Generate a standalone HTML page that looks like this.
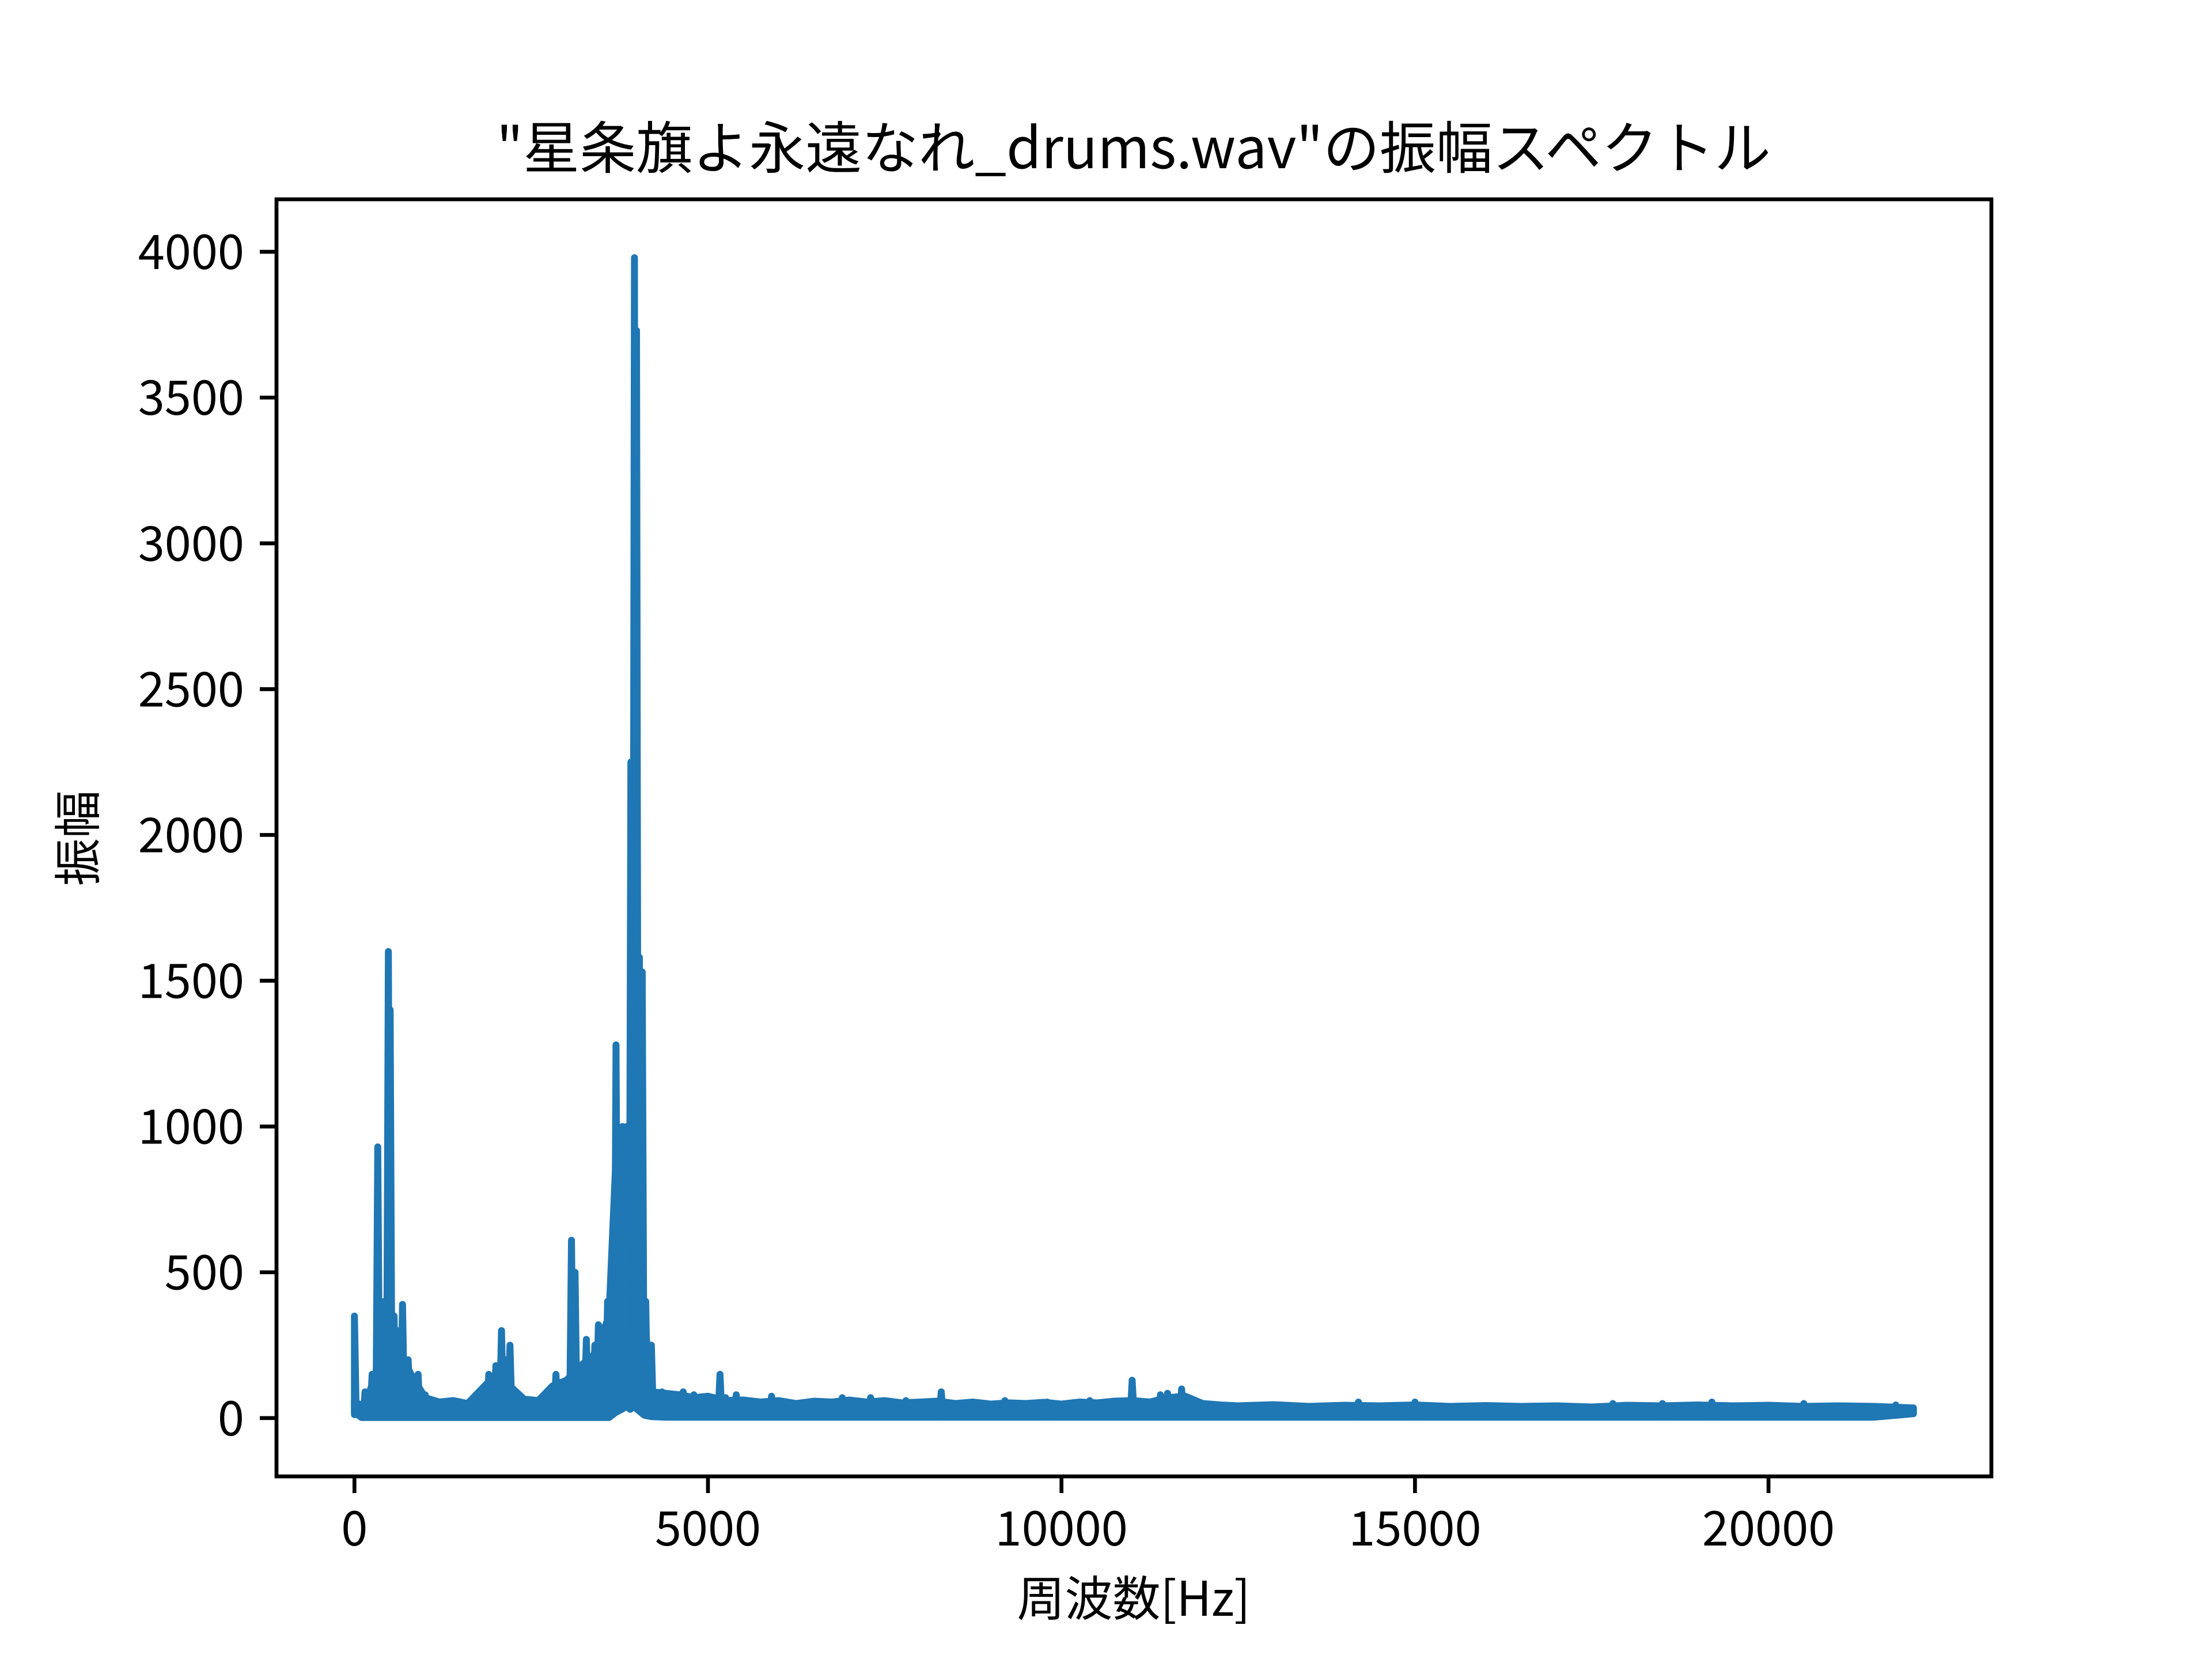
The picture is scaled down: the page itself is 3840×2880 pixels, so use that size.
<!DOCTYPE html>
<html><head><meta charset="utf-8">
<style>
html,body{margin:0;padding:0;background:#fff;}
svg{display:block;}
text{font-family:"Noto Sans CJK JP","Liberation Sans",sans-serif;fill:#000;}
</style></head>
<body>
<svg id="chart" width="3840" height="2880" viewBox="0 0 3840 2880" xmlns="http://www.w3.org/2000/svg">
<rect width="3840" height="2880" fill="#fff"/>
<text x="1968" y="292" font-size="98" text-anchor="middle">"星条旗よ永遠なれ_drums.wav"の振幅スペクトル</text>
<g id="plot"></g>
<g id="axes"></g>
<text x="1968" y="2805" font-size="83" text-anchor="middle">周波数[Hz]</text>
<text transform="translate(165,1455) rotate(-90)" font-size="83" text-anchor="middle">振幅</text>
</svg>
<script>
const xTicks = [0, 5000, 10000, 15000, 20000];
const yTicks = [0, 500, 1000, 1500, 2000, 2500, 3000, 3500, 4000];
const bandFreq = [0, 100, 200, 300, 400, 600, 800, 1000, 1200, 1400, 1600, 1800, 2000, 2200, 2400, 2600, 2800, 3000, 3200, 3400, 3600, 3700, 3780, 3850, 3900, 3950, 4000, 4100, 4200, 4400, 4600, 4800, 5000, 5250, 5500, 5750, 6000, 6250, 6500, 6750, 7000, 7250, 7500, 7750, 8000, 8250, 8500, 8750, 9000, 9250, 9500, 9750, 10000, 10250, 10500, 10750, 11000, 11250, 11500, 11750, 12000, 12250, 12500, 13000, 13500, 14000, 14500, 15000, 15500, 16000, 16500, 17000, 17500, 18000, 18500, 19000, 19500, 20000, 20500, 21000, 21500, 22050];
const bandHi = [60, 40, 80, 150, 300, 250, 150, 70, 55, 60, 50, 100, 150, 110, 65, 60, 110, 130, 180, 220, 350, 900, 950, 1000, 150, 1000, 900, 350, 90, 85, 80, 70, 75, 60, 62, 55, 60, 50, 58, 55, 62, 55, 60, 52, 55, 58, 50, 55, 48, 52, 50, 54, 48, 55, 52, 58, 60, 55, 70, 75, 50, 45, 42, 46, 40, 44, 42, 45, 40, 43, 40, 42, 38, 44, 42, 45, 42, 44, 40, 42, 40, 35];
const bandLo = [20, 2, 2, 2, 2, 2, 2, 2, 2, 2, 2, 2, 2, 2, 2, 2, 2, 2, 2, 2, 2, 20, 30, 40, 30, 40, 30, 10, 5, 3, 3, 3, 3, 3, 3, 3, 3, 3, 3, 3, 3, 3, 3, 3, 3, 3, 3, 3, 3, 3, 3, 3, 3, 3, 3, 3, 3, 3, 3, 3, 3, 3, 3, 3, 3, 3, 3, 3, 3, 3, 3, 3, 3, 3, 3, 3, 3, 3, 3, 3, 3, 15];
const spikeFreq = [0, 150, 250, 330, 420, 480, 505, 560, 600, 680, 700, 760, 800, 900, 1000, 1900, 2000, 2080, 2150, 2200, 2300, 2850, 2950, 3070, 3120, 3200, 3280, 3330, 3400, 3450, 3500, 3580, 3700, 3790, 3850, 3910, 3960, 3990, 4030, 4070, 4120, 4200, 4350, 4650, 4800, 5170, 5250, 5400, 5900, 6900, 7300, 7800, 8300, 9200, 9800, 10400, 11000, 11400, 11500, 11700, 14200, 15000, 17800, 18500, 19200, 20500, 21800];
const spikeAmp = [350, 90, 150, 930, 400, 1600, 1400, 350, 300, 390, 200, 200, 150, 150, 80, 150, 180, 300, 200, 250, 80, 150, 100, 610, 500, 180, 270, 200, 250, 320, 200, 400, 1280, 1000, 1000, 2250, 3980, 3730, 1580, 1530, 400, 250, 90, 90, 80, 150, 70, 80, 75, 70, 70, 60, 90, 60, 55, 60, 130, 80, 85, 100, 55, 55, 50, 50, 55, 50, 45];

const X0 = 480, X1 = 3457, Y0 = 346, Y1 = 2563;
const xMin = -1102.5, xMax = 23152.5, yMin = -200, yMax = 4180;
function xs(v){ return X0 + (v - xMin) / (xMax - xMin) * (X1 - X0); }
function ys(v){ return Y1 - (v - yMin) / (yMax - yMin) * (Y1 - Y0); }
const NS = "http://www.w3.org/2000/svg";
const plot = document.getElementById('plot');
const axes = document.getElementById('axes');
const C = '#1f77b4';

let pts = [];
for (let i = 0; i < bandFreq.length; i++) pts.push(xs(bandFreq[i]).toFixed(1) + ',' + ys(bandHi[i]).toFixed(1));
for (let i = bandFreq.length - 1; i >= 0; i--) pts.push(xs(bandFreq[i]).toFixed(1) + ',' + ys(bandLo[i]).toFixed(1));
const band = document.createElementNS(NS, 'polygon');
band.setAttribute('points', pts.join(' '));
band.setAttribute('fill', C);
band.setAttribute('stroke', C);
band.setAttribute('stroke-width', '12');
band.setAttribute('stroke-linejoin', 'round');


plot.appendChild(band);

function floorAt(f){
  for (let i = 0; i < bandFreq.length - 1; i++) {
    if (f >= bandFreq[i] && f <= bandFreq[i+1]) return Math.min(bandHi[i], bandHi[i+1]) * 0.3;
  }
  return 10;
}
for (let i = 0; i < spikeFreq.length; i++) {
  const f = spikeFreq[i], a = spikeAmp[i], w = 25;
  const base = floorAt(f);
  const p = document.createElementNS(NS, 'polyline');
  p.setAttribute('points', xs(Math.max(0, f - w)).toFixed(1) + ',' + ys(base).toFixed(1) + ' ' + xs(f).toFixed(1) + ',' + ys(a).toFixed(1) + ' ' + xs(f + w).toFixed(1) + ',' + ys(base).toFixed(1));
  p.setAttribute('fill', 'none');
  p.setAttribute('stroke', C);
  p.setAttribute('stroke-width', '12');
  p.setAttribute('stroke-linejoin', 'round');
  p.setAttribute('stroke-linecap', 'round');
  
  
  plot.appendChild(p);
}

const frame = document.createElementNS(NS, 'rect');
frame.setAttribute('x', X0); frame.setAttribute('y', Y0);
frame.setAttribute('width', X1 - X0); frame.setAttribute('height', Y1 - Y0);
frame.setAttribute('fill', 'none'); frame.setAttribute('stroke', '#000'); frame.setAttribute('stroke-width', '6.7');


axes.appendChild(frame);

xTicks.forEach(v => {
  const x = xs(v);
  const t = document.createElementNS(NS, 'line');
  t.setAttribute('x1', x); t.setAttribute('x2', x); t.setAttribute('y1', Y1); t.setAttribute('y2', Y1 + 29);
  t.setAttribute('stroke', '#000'); t.setAttribute('stroke-width', '6.7');
  
  
  axes.appendChild(t);
  const l = document.createElementNS(NS, 'text');
  l.setAttribute('x', x); l.setAttribute('y', 2683); l.setAttribute('font-size', '83'); l.setAttribute('text-anchor', 'middle');
  l.textContent = v;
  
  
  axes.appendChild(l);
});
yTicks.forEach(v => {
  const y = ys(v);
  const t = document.createElementNS(NS, 'line');
  t.setAttribute('x1', X0 - 29); t.setAttribute('x2', X0); t.setAttribute('y1', y); t.setAttribute('y2', y);
  t.setAttribute('stroke', '#000'); t.setAttribute('stroke-width', '6.7');
  
  
  axes.appendChild(t);
  const l = document.createElementNS(NS, 'text');
  l.setAttribute('x', 424); l.setAttribute('y', y + 30); l.setAttribute('font-size', '83'); l.setAttribute('text-anchor', 'end');
  l.textContent = v;
  
  
  axes.appendChild(l);
});
</script>
</body></html>
